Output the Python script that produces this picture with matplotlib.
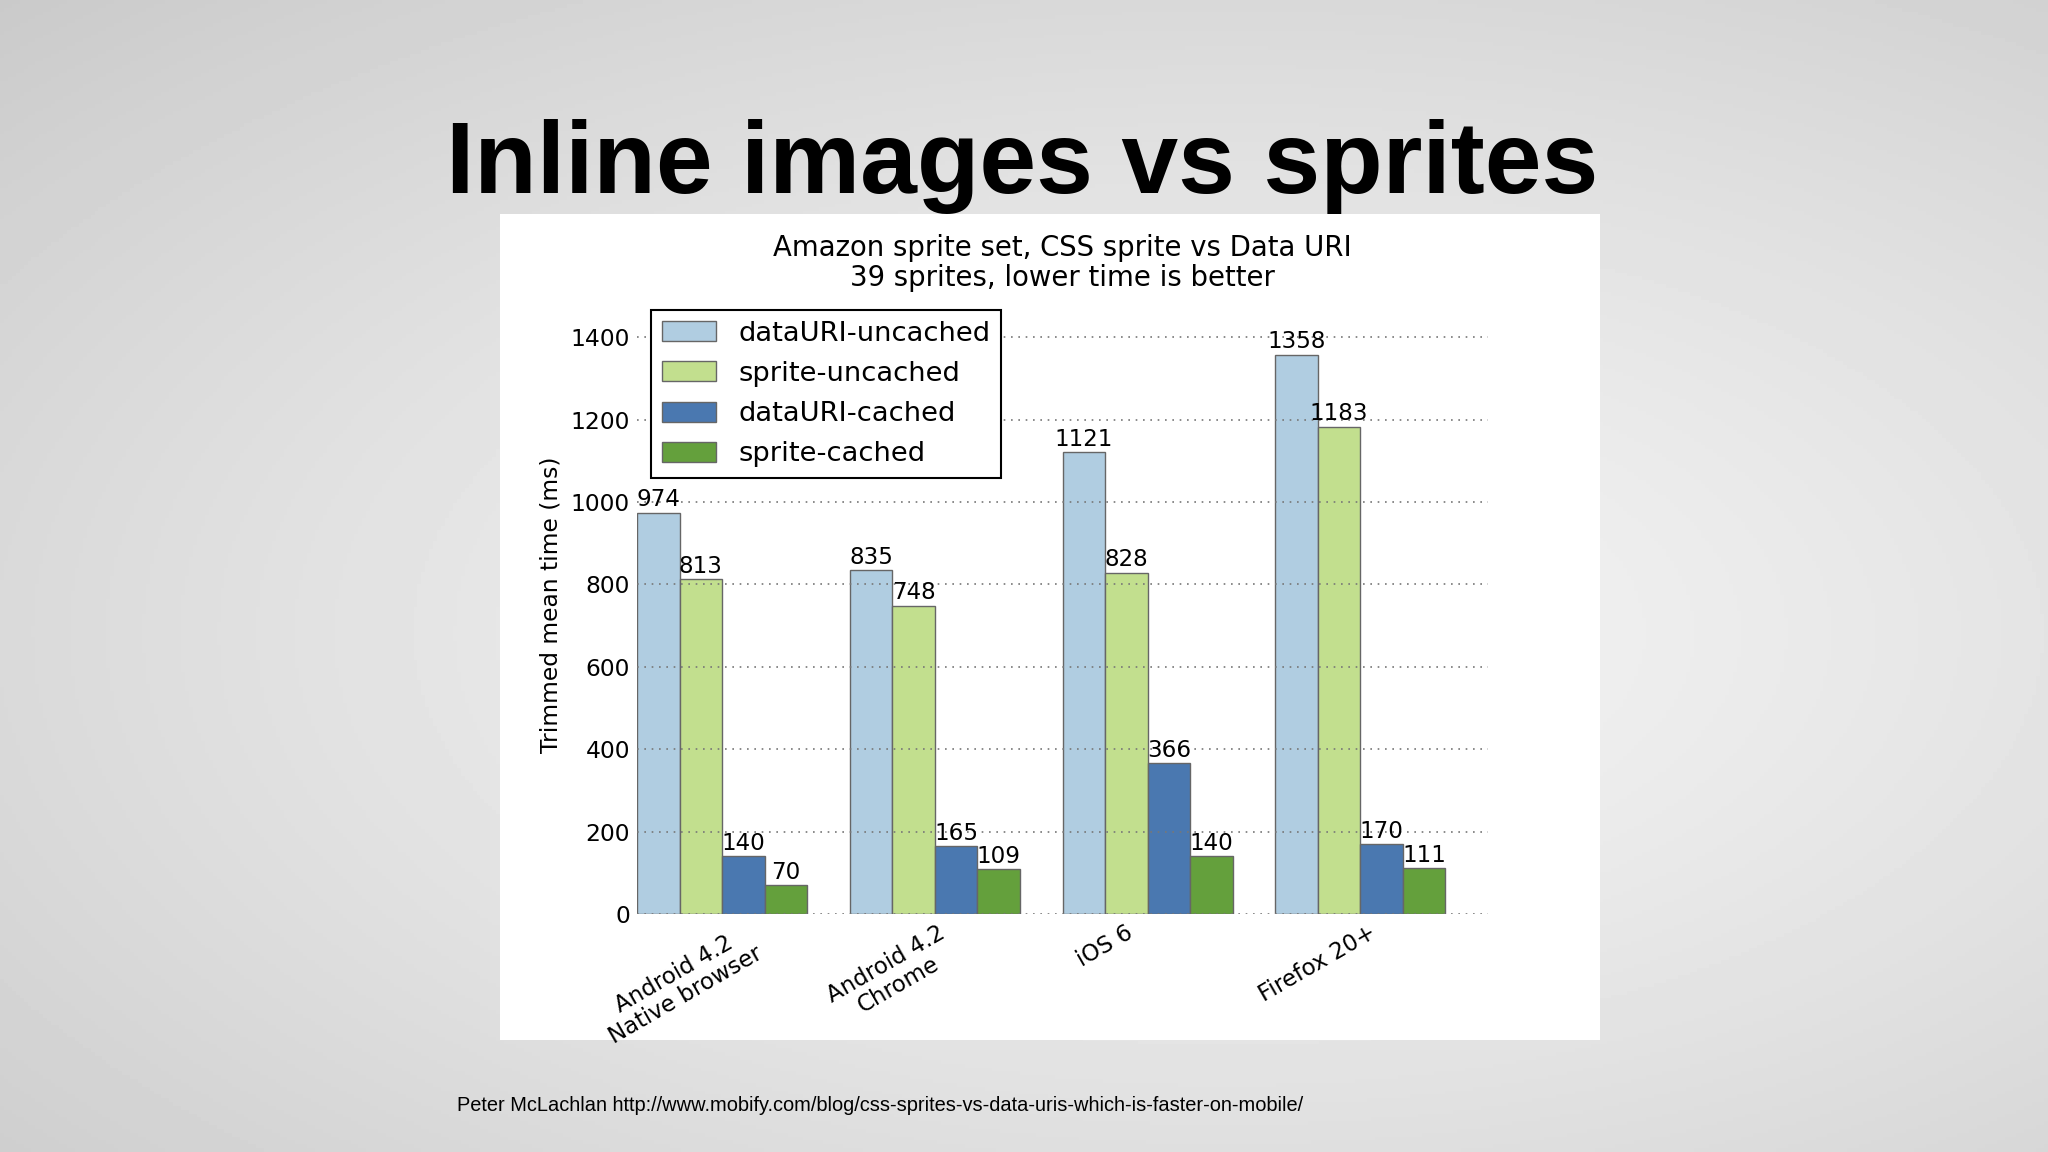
import numpy as np
import matplotlib.pyplot as plt
from matplotlib.patches import Rectangle

browsers = ['Android 4.2\nNative browser', 'Android 4.2\nChrome', 'iOS 6', 'Firefox 20+']
datauri_uncached = [974, 835, 1121, 1358]
sprite_uncached = [813, 748, 828, 1183]
datauri_cached = [140, 165, 366, 170]
sprite_cached = [70, 109, 140, 111]

series = [
    ('dataURI-uncached', datauri_uncached, '#b0cde1'),
    ('sprite-uncached', sprite_uncached, '#c2df8e'),
    ('dataURI-cached', datauri_cached, '#4a78b0'),
    ('sprite-cached', sprite_cached, '#64a03c'),
]

fig = plt.figure(figsize=(20.48, 11.52), dpi=100)

# slide background: soft radial grey gradient
bg = fig.add_axes([0, 0, 1, 1], zorder=-10)
yy, xx = np.mgrid[0:1:300j, 0:1:520j]
r = np.sqrt(((xx - 0.6) / 1.0) ** 2 + ((yy - 0.55) / 0.9) ** 2)
shade = 0.955 - 0.2 * np.clip(r, 0, 1) ** 1.3
bg.imshow(shade, cmap='gray', vmin=0, vmax=1, aspect='auto', extent=[0, 1, 0, 1])
bg.axis('off')

# white chart panel
fig.patches.append(Rectangle((500 / 2048, 1 - 1040 / 1152), 1100 / 2048, 826 / 1152,
                             transform=fig.transFigure, facecolor='white',
                             edgecolor='none', zorder=-5))

fig.text(1022 / 2048, 1 - 193 / 1152, 'Inline images vs sprites', ha='center',
         va='baseline', fontsize=73.5, fontweight='bold', family='Liberation Sans')
fig.text(457 / 2048, 1 - 1111 / 1152,
         'Peter McLachlan http://www.mobify.com/blog/css-sprites-vs-data-uris-which-is-faster-on-mobile/',
         ha='left', va='baseline', fontsize=14.4, family='Liberation Sans')

ax = fig.add_axes([637 / 2048, 1 - 914 / 1152, (1488 - 637) / 2048, (914 - 296) / 1152])
ax.patch.set_alpha(0)

width = 0.2
x = np.arange(len(browsers))
for k, (name, vals, col) in enumerate(series):
    bars = ax.bar(x + k * width, vals, width, align='edge', color=col,
                  edgecolor='#666666', linewidth=1, label=name)
    ax.bar_label(bars, padding=1, fontsize=16.6)

ax.set_xlim(0, 4)
ax.set_ylim(0, 1500)
ax.set_yticks(np.arange(0, 1401, 200))
ax.set_xticks(x + width)
ax.set_xticklabels(browsers, rotation=30, ha='center', fontsize=16.5, linespacing=1.05)
ax.tick_params(axis='y', labelsize=16.8)
ax.tick_params(length=0, pad=5)
for s in ax.spines.values():
    s.set_visible(False)
ax.set_axisbelow(False)
ax.yaxis.grid(True, linestyle=(0, (1, 3.4)), linewidth=1.2, color='#777777')
ax.set_ylabel('Trimmed mean time (ms)', fontsize=16.8, labelpad=6)
ax.set_title('Amazon sprite set, CSS sprite vs Data URI\n39 sprites, lower time is better',
             fontsize=19.8, pad=7, linespacing=1.1)

leg = ax.legend(loc='upper left', fontsize=19.7, fancybox=False, framealpha=1,
                edgecolor='black', handlelength=2.0, handleheight=0.75,
                labelspacing=0.52, borderaxespad=0.5)
leg.get_frame().set_linewidth(1.5)

fig.savefig('out.png', dpi=100)
